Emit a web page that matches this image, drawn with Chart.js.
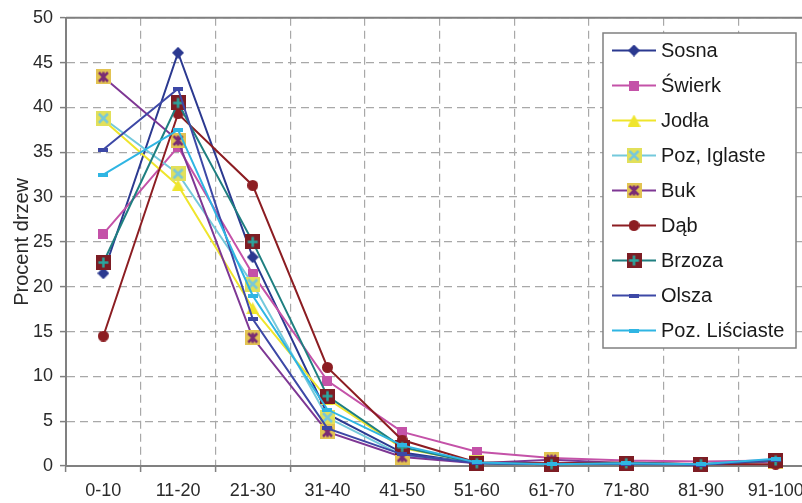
<!DOCTYPE html>
<html>
<head>
    <meta charset="UTF-8">
    <title>Procent drzew</title>
    <script src="https://cdn.jsdelivr.net/npm/chart.js"></script>
    <style>
        body { margin: 0; overflow: hidden; background: #fff; }
        canvas { display: block; }
    </style>
</head>
<body>
    <canvas id="myChart" width="820" height="503"></canvas>
    <script>
        // categories (diameter classes) and tick setup
        const categories = ['0-10', '11-20', '21-30', '31-40', '41-50', '51-60', '61-70', '71-80', '81-90', '91-100'];
        const yTicks = { min: 0, max: 50, step: 5 };

        // values (percent of trees)
        const sosna        = [21.5, 46.1, 23.3, 5.8, 1.5, 0.3, 0.2, 0.2, 0.1, 0.6];
        const swierk       = [25.9, 35.6, 21.4, 9.5, 3.8, 1.6, 0.9, 0.6, 0.5, 0.6];
        const jodla        = [38.6, 31.3, 17.6, 7.5, 2.0, 0.4, 0.2, 0.2, 0.1, 0.6];
        const pozIglaste   = [38.8, 32.6, 20.3, 5.4, 1.2, 0.4, 0.3, 0.3, 0.2, 0.6];
        const buk          = [43.4, 36.3, 14.3, 3.8, 1.0, 0.3, 0.7, 0.3, 0.2, 0.5];
        const dab          = [14.5, 39.3, 31.3, 11.0, 2.9, 0.4, 0.3, 0.4, 0.2, 0.2];
        const brzoza       = [22.7, 40.5, 25.0, 7.8, 2.1, 0.3, 0.2, 0.3, 0.2, 0.6];
        const olsza        = [35.3, 42.1, 16.4, 4.2, 1.3, 0.3, 0.2, 0.2, 0.1, 0.7];
        const pozLisciaste = [32.5, 37.5, 19.0, 6.3, 2.3, 0.4, 0.2, 0.3, 0.2, 0.8];

        const FONT = "'Liberation Sans', Arial, sans-serif";

        // small canvases used as point markers (Excel style)
        function marker(w, h, draw) {
            const c = document.createElement('canvas');
            c.width = w; c.height = h;
            const g = c.getContext('2d');
            draw(g, w, h);
            return c;
        }
        function diamond(color) {
            return marker(12, 12, (g, w, h) => {
                g.fillStyle = color;
                g.beginPath();
                g.moveTo(w / 2, 0); g.lineTo(w, h / 2); g.lineTo(w / 2, h); g.lineTo(0, h / 2);
                g.closePath(); g.fill();
            });
        }
        function square(color, s) {
            return marker(s, s, (g) => { g.fillStyle = color; g.fillRect(0, 0, s, s); });
        }
        function triangle(color) {
            return marker(13, 12, (g, w, h) => {
                g.fillStyle = color;
                g.beginPath();
                g.moveTo(w / 2, 0); g.lineTo(w, h); g.lineTo(0, h);
                g.closePath(); g.fill();
            });
        }
        function circle(color) {
            return marker(11, 11, (g, w) => {
                g.fillStyle = color;
                g.beginPath(); g.arc(w / 2, w / 2, w / 2, 0, Math.PI * 2); g.fill();
            });
        }
        function box(fill, stroke, kind) {
            return marker(15, 15, (g, w, h) => {
                g.fillStyle = fill;
                g.fillRect(0, 0, w, h);
                g.strokeStyle = stroke;
                g.lineWidth = 2.5;
                g.beginPath();
                if (kind === 'x' || kind === 'star') {
                    g.moveTo(3, 3); g.lineTo(w - 3, h - 3);
                    g.moveTo(w - 3, 3); g.lineTo(3, h - 3);
                }
                if (kind === 'star' || kind === 'plus') {
                    g.moveTo(w / 2, 2.5); g.lineTo(w / 2, h - 2.5);
                }
                if (kind === 'plus') {
                    g.moveTo(2.5, h / 2); g.lineTo(w - 2.5, h / 2);
                }
                g.stroke();
            });
        }
        function dash(color) {
            return marker(10, 4, (g, w, h) => { g.fillStyle = color; g.fillRect(0, 0, w, h); });
        }

        const series = [
            { label: 'Sosna',          data: sosna,        color: '#2B3990', point: diamond('#2B3990') },
            { label: 'Świerk',         data: swierk,       color: '#C452A8', point: square('#C452A8', 10) },
            { label: 'Jodła',          data: jodla,        color: '#EFE52C', point: triangle('#EFE52C') },
            { label: 'Poz, Iglaste',   data: pozIglaste,   color: '#74C9DC', point: box('#E2E05A', '#78C8DA', 'x') },
            { label: 'Buk',            data: buk,          color: '#7E3794', point: box('#E2C352', '#7A2B74', 'star') },
            { label: 'Dąb',            data: dab,          color: '#8C1D22', point: circle('#8C1D22') },
            { label: 'Brzoza',         data: brzoza,       color: '#1F7F80', point: box('#7D1D24', '#2AA79F', 'plus') },
            { label: 'Olsza',          data: olsza,        color: '#3D48A6', point: dash('#3D48A6') },
            { label: 'Poz. Liściaste', data: pozLisciaste, color: '#2FB5E3', point: dash('#2FB5E3') }
        ];

        // frame line along the top of the plot area
        const plotFrame = {
            id: 'plotFrame',
            beforeDatasetsDraw(chart) {
                const { ctx, chartArea: a } = chart;
                ctx.save();
                ctx.strokeStyle = '#808080';
                ctx.lineWidth = 2;
                ctx.beginPath();
                ctx.moveTo(a.left, a.top);
                ctx.lineTo(a.right, a.top);
                ctx.lineTo(a.right, a.bottom);
                ctx.stroke();
                ctx.restore();
            }
        };

        // boxed legend inside the plot, like the Excel one
        const boxLegend = {
            id: 'boxLegend',
            afterDraw(chart) {
                const ctx = chart.ctx;
                const left = 603, top = 33, width = 193, height = 315;
                const rowY = 50.5, rowStep = 35;
                ctx.save();
                ctx.fillStyle = '#ffffff';
                ctx.fillRect(left, top, width, height);
                ctx.strokeStyle = '#808080';
                ctx.lineWidth = 1.5;
                ctx.strokeRect(left, top, width, height);
                ctx.font = '20px ' + FONT;
                ctx.textBaseline = 'middle';
                chart.data.datasets.forEach((ds, i) => {
                    const y = rowY + i * rowStep;
                    ctx.strokeStyle = ds.borderColor;
                    ctx.lineWidth = 2;
                    ctx.beginPath();
                    ctx.moveTo(612, y);
                    ctx.lineTo(656, y);
                    ctx.stroke();
                    const p = ds.pointStyle;
                    ctx.drawImage(p, 634 - p.width / 2, y - p.height / 2);
                    ctx.fillStyle = '#1a1a1a';
                    ctx.fillText(ds.label, 661, y + 1);
                });
                ctx.restore();
            }
        };

        const ctx = document.getElementById('myChart').getContext('2d');
        const chart = new Chart(ctx, {
            type: 'line',
            data: {
                labels: categories,
                datasets: series.map((s, i) => ({
                    label: s.label,
                    data: s.data,
                    borderColor: s.color,
                    backgroundColor: s.color,
                    borderWidth: 2,
                    pointStyle: s.point,
                    pointRadius: 5,
                    tension: 0,
                    fill: false,
                    clip: false,
                    order: series.length - i // later series on top, as in Excel
                }))
            },
            options: {
                responsive: false,
                animation: false,
                devicePixelRatio: 1,
                layout: { padding: { top: 15, right: 4, left: 0, bottom: 0 } },
                plugins: {
                    legend: { display: false },
                    tooltip: { enabled: false }
                },
                scales: {
                    x: {
                        offset: true,
                        afterFit: (scale) => { scale.height = 37; },
                        grid: {
                            offset: true,
                            color: '#a8a8a8',
                            lineWidth: 1.2,
                            tickLength: 6,
                            tickColor: '#808080',
                            tickWidth: 1.5
                        },
                        border: { color: '#808080', width: 2, dash: [8, 5] },
                        ticks: {
                            color: '#2a2a2a',
                            padding: 8,
                            maxRotation: 0,
                            autoSkip: false,
                            font: { family: FONT, size: 18 }
                        }
                    },
                    y: {
                        min: yTicks.min,
                        max: yTicks.max,
                        afterFit: (scale) => { scale.width = 66; },
                        grid: {
                            color: '#a8a8a8',
                            lineWidth: 1.2,
                            tickLength: 6,
                            tickColor: '#808080',
                            tickWidth: 1.5
                        },
                        border: { color: '#808080', width: 2, dash: [8, 5] },
                        ticks: {
                            stepSize: yTicks.step,
                            color: '#2a2a2a',
                            padding: 7,
                            font: { family: FONT, size: 18 }
                        },
                        title: {
                            display: true,
                            text: 'Procent drzew',
                            color: '#2a2a2a',
                            padding: { top: 10, bottom: 0 },
                            font: { family: FONT, size: 20 }
                        }
                    }
                }
            },
            plugins: [plotFrame, boxLegend]
        });
    </script>
</body>
</html>
